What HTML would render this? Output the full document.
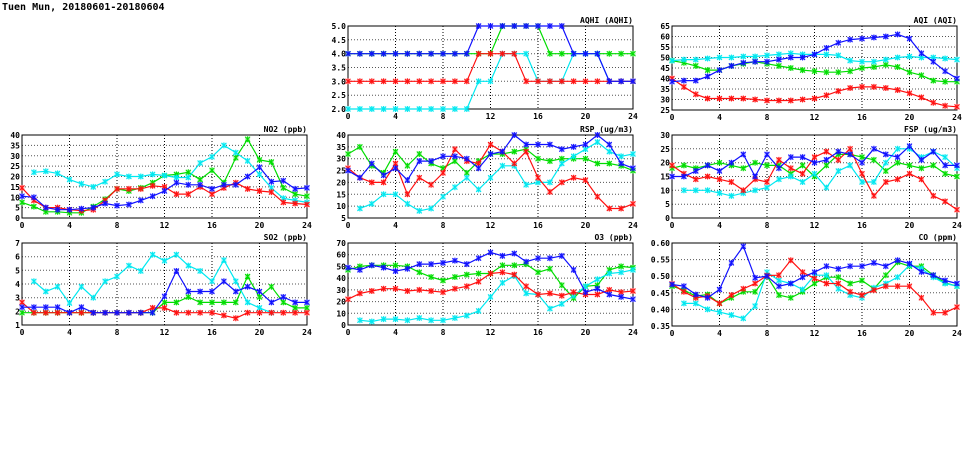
<!DOCTYPE html>
<html><head><meta charset="utf-8"><style>
body{margin:0;background:#fff;width:975px;height:447px;overflow:hidden}
svg text{font-family:"DejaVu Sans Mono","Liberation Mono",monospace;font-weight:bold;font-size:8px;fill:#000}
</style></head><body>
<svg id="s" width="975" height="447" xmlns="http://www.w3.org/2000/svg">
<text x="2" y="10" style="font-size:10px">Tuen Mun, 20180601-20180604</text>
</svg>
<script>
const N=null;
const C={b:"#1010ff",g:"#00dd00",r:"#ff1010",c:"#00e8f0"};
const P=[
{t:"AQHI (AQHI)",x:348,y:26,h:83,min:2,max:5,step:.5,dec:1,s:{
g:[4,4,4,4,4,4,4,4,4,4,4,4,4,5,5,5,5,4,4,4,4,4,4,4,4],
c:[2,2,2,2,2,2,2,2,2,2,2,3,3,4,4,4,3,3,3,4,4,4,3,3,3],
r:[3,3,3,3,3,3,3,3,3,3,3,4,4,4,4,3,3,3,3,3,3,3,3,3,3],
b:[4,4,4,4,4,4,4,4,4,4,4,5,5,5,5,5,5,5,5,4,4,4,3,3,3]}},
{t:"AQI (AQI)",x:672,y:26,h:84,min:25,max:65,step:5,dec:0,s:{
c:[48.5,49,49,49.5,50,50,50.5,50.5,51,51.5,52,51.5,51.5,51.5,51,48.5,48,48,49,50,50.5,50,50,49.5,49],
g:[48.5,47.5,46,44,44,46,47,48,47,46,45,44,43.5,43,43,43.5,45,45.5,46.5,45.5,43,41.5,39,38.5,38.5],
r:[40,36,32.5,30.5,30.5,30.5,30.5,30,29.5,29.5,29.5,30,30.5,32,34,35.5,36,36,35.5,34.5,33,31,28.5,27,26.5],
b:[38.5,39,39,41,44,46,47.5,48,48,49,50,50,51.5,54.5,57,58.5,59,59.5,60,61,59,52,48,43.5,40]}},
{t:"NO2 (ppb)",x:22,y:135,h:83,min:0,max:40,step:5,dec:0,s:{
c:[N,22,22.5,21.5,18.5,16.5,15,17.5,21,20,20,21,20.5,19.5,19.5,26.5,29.5,35,31.5,27.5,21,14.5,9.5,8.5,7.5],
g:[7.5,5.5,3,3,2.5,2.5,5.5,9,14,13,14.5,17,20.5,21,22,18.5,23,17,29,38,28,27,14.5,11.5,10.5],
b:[10.5,10,5,4,4,4.5,5,7,6,6.5,8.5,10.5,13,17,16,16,14,16,16,20,24.5,17.5,18,14,14.5],
r:[14.5,8.5,5,5,4,3.5,4,8.5,14,14,14,15.5,15,11.5,11.5,15,11.5,14.5,17,14,13,12.5,7.5,7,6.5]}},
{t:"RSP (ug/m3)",x:348,y:135,h:83,min:5,max:40,step:5,dec:0,s:{
c:[N,9,11,15,15,11,8,9,14,18,22,17,22,27,27,19,20,20,28,31,34,37,33,31,32],
g:[32,35,27,24,33,27,32,28,26,29,24,29,32,32,33,34,30,29,30,30,30,28,28,27,25],
r:[26,22,20,20,28,15,22,19,24,34,29,28,36,33,28,33,22,16,20,22,21,14,9,9,11],
b:[25,22,28,23,26,21,29,29,31,31,30,26,32,33,40,36,36,36,34,35,36,40,36,28,26]}},
{t:"FSP (ug/m3)",x:672,y:135,h:83,min:0,max:30,step:5,dec:0,s:{
c:[N,10,10,10,9,8,9,10,11,14,15,13,16,11,17,19,13,13,20,25,25,22,24,22,18],
g:[18,19,18,19,20,19,18,20,19,19,16,19,15,19,23,23,22,21,17,20,19,18,19,16,15],
r:[19,16,14,15,14,13,10,14,13,21,18,16,22,24,21,25,16,8,13,14,16,14,8,6,3],
b:[15,15,17,19,17,20,23,15,23,18,22,22,20,21,24,23,20,25,23,22,26,21,24,19,19]}},
{t:"SO2 (ppb)",x:22,y:243,h:82,min:1,max:7,step:1,dec:0,s:{
c:[N,4.2,3.45,3.8,2.6,3.8,3,4.2,4.55,5.35,4.95,6.15,5.7,6.15,5.35,4.95,4.2,5.75,4.2,2.65,2.25,1.9,N,N,N],
g:[1.9,1.9,1.9,1.9,1.9,1.9,1.9,1.9,1.9,1.9,1.9,1.9,2.65,2.65,3.05,2.65,2.65,2.65,2.65,4.55,3.05,3.8,2.65,2.25,2.25],
r:[2.65,1.9,1.9,1.9,1.9,1.9,1.9,1.9,1.9,1.9,1.9,2.25,2.25,1.9,1.9,1.9,1.9,1.7,1.5,1.9,1.9,1.9,1.9,1.9,1.9],
b:[2.3,2.3,2.3,2.3,1.9,2.3,1.9,1.9,1.9,1.9,1.9,1.9,3.1,4.95,3.45,3.45,3.45,4.2,3.45,3.8,3.45,2.65,3.05,2.65,2.65]}},
{t:"O3 (ppb)",x:348,y:243,h:82,min:0,max:70,step:10,dec:0,s:{
c:[N,4,3,5,5,4,6,4,4,6,8,12,24,36,42,27,26,14,18,25,33,39,44,45,47],
g:[47,50,51,51,51,50,45,41,38,41,43,44,44,51,51,52,45,48,34,23,33,34,47,50,49],
r:[22,27,29,31,31,29,30,29,28,31,33,37,44,45,43,33,26,27,25,28,26,26,30,28,29],
b:[49,47,51,49,46,48,52,52,53,55,52,57,62,59,61,54,57,57,59,47,28,31,26,24,22]}},
{t:"CO (ppm)",x:672,y:243,h:83,min:.35,max:.6,step:.05,dec:2,s:{
c:[N,.418,.418,.40,.392,.383,.373,.41,.512,.487,.478,.46,.503,.503,.462,.443,.435,.465,.478,.497,.533,.523,.497,.478,.47],
g:[.47,.458,.44,.445,.418,.435,.453,.453,.50,.443,.435,.453,.478,.497,.497,.478,.487,.462,.503,.542,.53,.53,.503,.48,.47],
r:[.477,.453,.435,.44,.418,.443,.462,.478,.502,.503,.548,.512,.493,.478,.478,.453,.443,.458,.47,.47,.47,.435,.39,.39,.407],
b:[.475,.47,.445,.435,.46,.54,.59,.495,.50,.47,.478,.497,.512,.53,.522,.53,.53,.54,.53,.548,.538,.513,.503,.487,.478]}}
];
let o="";const W=285;
for(const p of P){
 const Y=v=>p.y+p.h-(v-p.min)/(p.max-p.min)*p.h, X=i=>p.x+i*W/24;
 const n=Math.round((p.max-p.min)/p.step);
 for(let k=0;k<=n;k++){const v=p.min+k*p.step,y=Y(v).toFixed(1);
  if(k>0&&k<n)o+=`<line x1="${p.x}" x2="${p.x+W}" y1="${y}" y2="${y}" stroke="#555" stroke-dasharray="1,2"/>`;
  o+=`<text x="${p.x-2}" y="${+y+3}" text-anchor="end">${v.toFixed(p.dec)}</text>`;}
 for(let i=0;i<=24;i+=4){const x=X(i);
  if(i>0&&i<24)o+=`<line x1="${x}" x2="${x}" y1="${p.y}" y2="${p.y+p.h}" stroke="#000" stroke-dasharray="1,2"/>`;
  o+=`<text x="${x}" y="${p.y+p.h+10}" text-anchor="middle">${i}</text>`;}
 o+=`<rect x="${p.x}" y="${p.y}" width="${W}" height="${p.h}" fill="none" stroke="#000"/>`;
 o+=`<text x="${p.x+W}" y="${p.y-3}" text-anchor="end">${p.t}</text>`;
 for(const k of ["g","c","r","b"]){const d=p.s[k];if(!d)continue;let path="",m="";
  d.forEach((v,i)=>{if(v===N)return;const x=X(i).toFixed(1),y=Y(v).toFixed(1);
   path+=(path&&d[i-1]!==N?"L":"M")+x+" "+y;
   m+=`<rect x="${x-2.5}" y="${y-2.5}" width="5" height="5" fill="${C[k]}" fill-opacity=".35"/><path d="M${x-2.5} ${y-2.5}l5 5m0-5l-5 5M${x} ${y-3}v6" stroke="${C[k]}"/>`;});
  o+=`<path d="${path}" fill="none" stroke="${C[k]}" stroke-width="1.2"/>`+m;}
}
document.getElementById("s").insertAdjacentHTML("beforeend",o);
</script>
</body></html>
